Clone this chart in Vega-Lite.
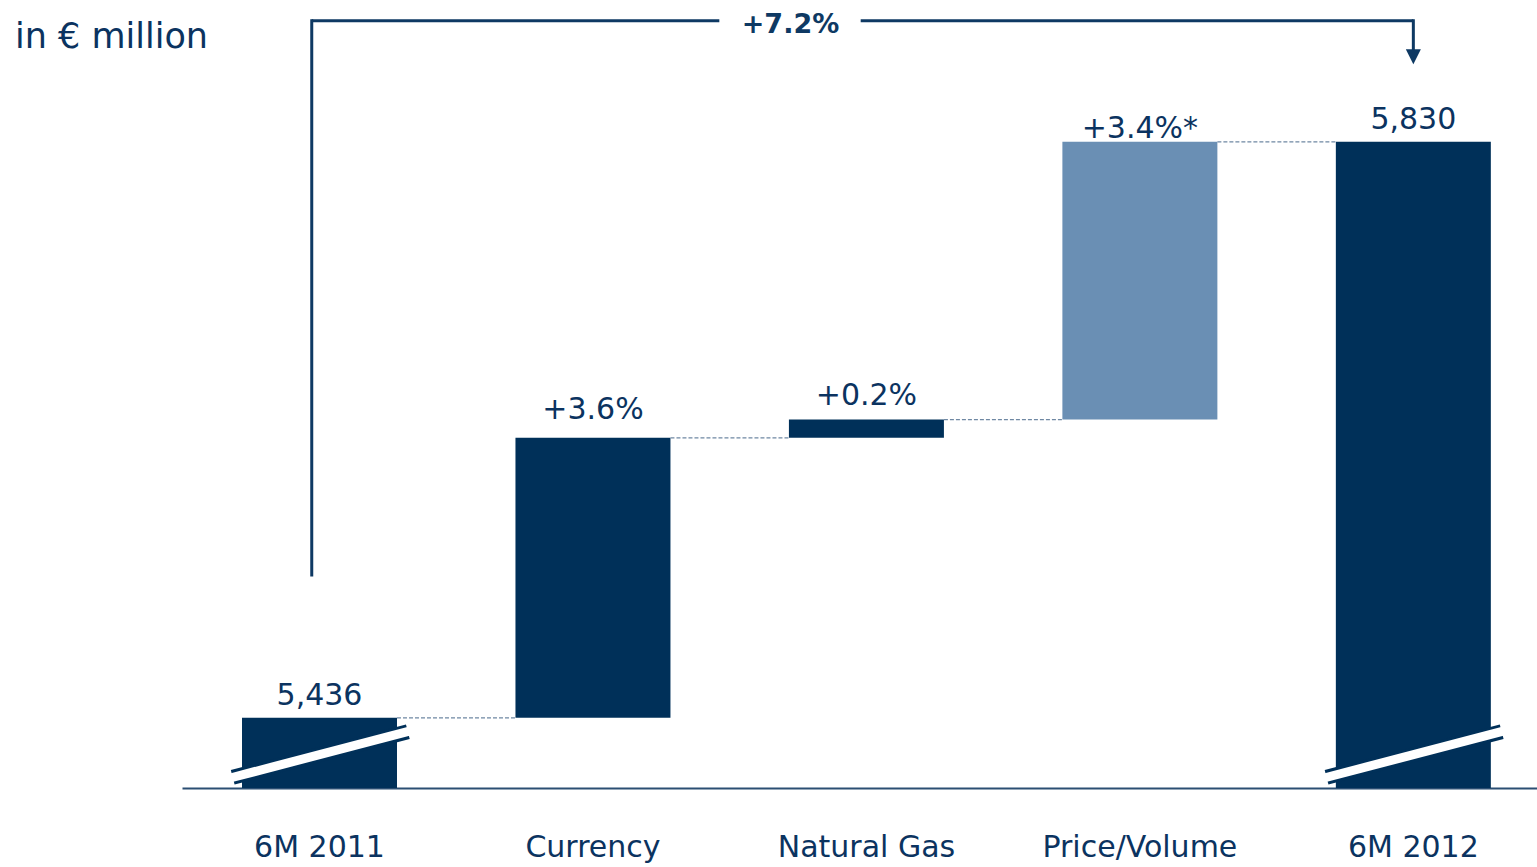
{
  "$schema": "https://vega.github.io/schema/vega-lite/v6.json",
  "width": 1355,
  "height": 788,
  "padding": {"left": 182, "top": 0, "right": 0, "bottom": 79},
  "autosize": {"type": "none"},
  "config": {"view": {"stroke": null}, "font": "DejaVu Sans"},
  "data": {
    "values": [
      {"cat": "6M 2011", "start": 0, "end": 5436, "label": "5,436", "kind": "total", "next": "Currency"},
      {"cat": "Currency", "start": 5436, "end": 5627.5, "label": "+3.6%", "kind": "delta", "next": "Natural Gas"},
      {"cat": "Natural Gas", "start": 5627.5, "end": 5640, "label": "+0.2%", "kind": "delta", "next": "Price/Volume"},
      {"cat": "Price/Volume", "start": 5640, "end": 5830, "label": "+3.4%*", "kind": "pv", "next": "6M 2012"},
      {"cat": "6M 2012", "start": 0, "end": 5830, "label": "5,830", "kind": "total", "next": null}
    ]
  },
  "layer": [
    {
      "mark": {"type": "bar", "clip": true},
      "encoding": {
        "x": {
          "field": "cat",
          "type": "nominal",
          "scale": {
            "domain": ["6M 2011", "Currency", "Natural Gas", "Price/Volume", "6M 2012"],
            "paddingInner": 0.4332,
            "paddingOuter": 0.1941,
            "align": 0.5652
          },
          "axis": {
            "title": null,
            "labelAngle": 0,
            "labelFont": "DejaVu Sans",
            "labelFontSize": 30,
            "labelColor": "#0b3360",
            "labelPadding": 68,
            "labelBaseline": "alphabetic",
            "labelLimit": 400,
            "labelOverlap": false,
            "ticks": false,
            "tickSize": 0,
            "domainColor": "#2b4e73",
            "domainWidth": 2,
            "grid": false
          }
        },
        "y": {
          "field": "end",
          "type": "quantitative",
          "scale": {"domain": [5388, 5927], "nice": false, "zero": false},
          "axis": null
        },
        "y2": {"field": "start"},
        "color": {
          "field": "kind",
          "type": "nominal",
          "scale": {"domain": ["total", "delta", "pv"], "range": ["#003059", "#003059", "#6a8fb4"]},
          "legend": null
        }
      }
    },
    {
      "transform": [{"filter": "datum.next != null"}],
      "mark": {"type": "rule", "color": "#6f88a3", "strokeWidth": 1.3, "strokeDash": [4, 2]},
      "encoding": {
        "x": {"field": "cat", "type": "nominal", "bandPosition": 1},
        "x2": {"field": "next", "bandPosition": 0},
        "y": {"field": "end", "type": "quantitative"}
      }
    },
    {
      "transform": [{"filter": "datum.kind == 'total'"}],
      "mark": {"type": "rule", "color": "#003059", "strokeWidth": 15},
      "encoding": {
        "x": {"field": "cat", "type": "nominal", "bandPosition": -0.06},
        "x2": {"field": "cat", "bandPosition": 1.07},
        "y": {"datum": 5395.4, "type": "quantitative"},
        "y2": {"datum": 5426.5}
      }
    },
    {
      "transform": [{"filter": "datum.kind == 'total'"}],
      "mark": {"type": "rule", "color": "#ffffff", "strokeWidth": 9},
      "encoding": {
        "x": {"field": "cat", "type": "nominal", "bandPosition": -0.07},
        "x2": {"field": "cat", "bandPosition": 1.08},
        "y": {"datum": 5395.0, "type": "quantitative"},
        "y2": {"datum": 5426.9}
      }
    },
    {
      "transform": [{"filter": "datum.kind == 'total'"}],
      "mark": {"type": "text", "fontSize": 30, "color": "#0b3360", "align": "center", "baseline": "alphabetic", "dy": -13},
      "encoding": {
        "x": {"field": "cat", "type": "nominal"},
        "y": {"field": "end", "type": "quantitative"},
        "text": {"field": "label"}
      }
    },
    {
      "transform": [{"filter": "datum.cat == 'Currency'"}],
      "mark": {"type": "text", "fontSize": 30, "color": "#0b3360", "align": "center", "baseline": "alphabetic", "dy": -19},
      "encoding": {
        "x": {"field": "cat", "type": "nominal"},
        "y": {"field": "end", "type": "quantitative"},
        "text": {"field": "label"}
      }
    },
    {
      "transform": [{"filter": "datum.cat == 'Natural Gas'"}],
      "mark": {"type": "text", "fontSize": 30, "color": "#0b3360", "align": "center", "baseline": "alphabetic", "dy": -15},
      "encoding": {
        "x": {"field": "cat", "type": "nominal"},
        "y": {"field": "end", "type": "quantitative"},
        "text": {"field": "label"}
      }
    },
    {
      "transform": [{"filter": "datum.cat == 'Price/Volume'"}],
      "mark": {"type": "text", "fontSize": 30, "color": "#0b3360", "align": "center", "baseline": "alphabetic", "dy": -3.5},
      "encoding": {
        "x": {"field": "cat", "type": "nominal"},
        "y": {"field": "end", "type": "quantitative"},
        "text": {"field": "label"}
      }
    },
    {
      "data": {"values": [{"note": "+7.2%"}]},
      "mark": {"type": "rule", "color": "#0e3963", "strokeWidth": 3, "strokeCap": "square"},
      "encoding": {
        "x": {"datum": "6M 2011", "type": "nominal", "bandPosition": 0.45},
        "y": {"datum": 5533.7, "type": "quantitative"},
        "y2": {"datum": 5912.8}
      }
    },
    {
      "data": {"values": [{"note": "+7.2%"}]},
      "mark": {"type": "rule", "color": "#0e3963", "strokeWidth": 3},
      "encoding": {
        "x": {"datum": "6M 2011", "type": "nominal", "bandPosition": 0.45},
        "x2": {"datum": "Natural Gas", "bandPosition": -0.449},
        "y": {"datum": 5912.8, "type": "quantitative"}
      }
    },
    {
      "data": {"values": [{"note": "+7.2%"}]},
      "mark": {"type": "rule", "color": "#0e3963", "strokeWidth": 3},
      "encoding": {
        "x": {"datum": "Natural Gas", "type": "nominal", "bandPosition": 0.463},
        "x2": {"datum": "6M 2012", "bandPosition": 0.5},
        "y": {"datum": 5912.8, "type": "quantitative"}
      }
    },
    {
      "data": {"values": [{"note": "+7.2%"}]},
      "mark": {"type": "rule", "color": "#0e3963", "strokeWidth": 3, "strokeCap": "square"},
      "encoding": {
        "x": {"datum": "6M 2012", "type": "nominal", "bandPosition": 0.5},
        "y": {"datum": 5912.8, "type": "quantitative"},
        "y2": {"datum": 5893}
      }
    },
    {
      "data": {"values": [{"note": "+7.2%"}]},
      "mark": {"type": "point", "shape": "M-1,-1L1,-1L0,1Z", "size": 225, "filled": true, "opacity": 1, "color": "#0e3963"},
      "encoding": {
        "x": {"datum": "6M 2012", "type": "nominal", "bandPosition": 0.5},
        "y": {"datum": 5888.2, "type": "quantitative"}
      }
    },
    {
      "data": {"values": [{"note": "+7.2%"}]},
      "mark": {"type": "text", "fontSize": 27, "fontWeight": "bold", "color": "#0e3963", "align": "center", "baseline": "alphabetic", "dy": 12.5},
      "encoding": {
        "x": {"datum": "Natural Gas", "type": "nominal", "bandPosition": 0.01},
        "y": {"datum": 5912.8, "type": "quantitative"},
        "text": {"field": "note"}
      }
    },
    {
      "data": {"values": [{"unit": "in € million"}]},
      "mark": {"type": "text", "fontSize": 35, "color": "#0b3360", "align": "left", "baseline": "alphabetic"},
      "encoding": {
        "x": {"datum": "6M 2011", "type": "nominal", "bandPosition": -1.4645},
        "y": {"datum": 5894.4, "type": "quantitative"},
        "text": {"field": "unit"}
      }
    }
  ]
}
